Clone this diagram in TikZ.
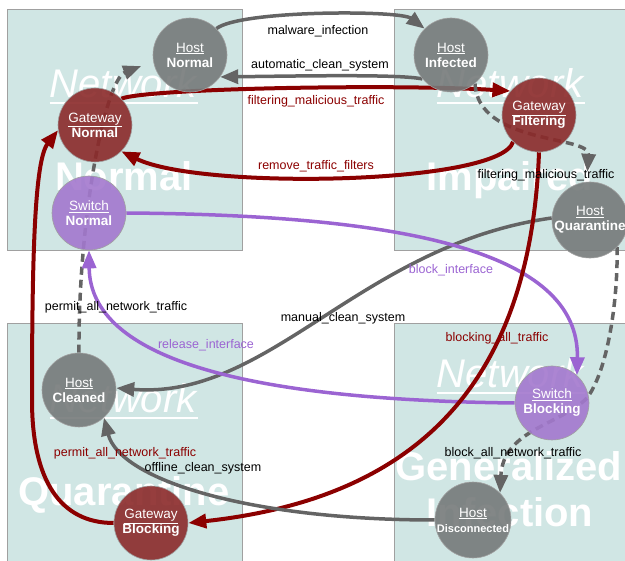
\documentclass[tikz,border=0pt]{standalone}
\usepackage{fontspec}
\setmainfont{Liberation Sans}
\usetikzlibrary{arrows.meta}
\definecolor{boxfill}{RGB}{208,230,228}
\definecolor{boxline}{RGB}{160,160,160}
\definecolor{hostfill}{RGB}{118,122,122}
\definecolor{gwfill}{RGB}{139,42,42}
\definecolor{swfill}{RGB}{163,120,206}
\definecolor{grayedge}{RGB}{100,100,100}
\definecolor{rededge}{RGB}{139,0,0}
\definecolor{purpleedge}{RGB}{155,100,210}
\pgfdeclarelayer{boxlayer}
\pgfdeclarelayer{edgelayer}
\pgfsetlayers{boxlayer,edgelayer,main}
\tikzset{
  netbox/.style={fill=boxfill, draw=boxline, line width=0.8pt},
  bgtext/.style={text=white, font=\fontsize{40}{46.5}\selectfont, anchor=base, inner sep=0pt},
  bgrule/.style={draw=white, line width=2.6pt},
  statenode/.style={circle, minimum size=74pt, inner sep=0pt, fill opacity=0.9, text opacity=1,
    draw=boxline, line width=0.6pt, text=white, align=center,
    font=\fontsize{13.5}{15}\selectfont},
  host/.style={statenode, fill=hostfill},
  gw/.style={statenode, fill=gwfill},
  sw/.style={statenode, fill=swfill},
  edgebase/.style={-{Triangle[length=18pt,width=14pt]}},
  grayline/.style={edgebase, draw=grayedge, line width=3.5pt},
  redline/.style={edgebase, draw=rededge, line width=4pt},
  purpleline/.style={edgebase, draw=purpleedge, line width=3.5pt},
  dashline/.style={grayline, dash pattern=on 8pt off 5pt},
  lbl/.style={inner sep=0pt, font=\fontsize{12.5}{14}\selectfont},
  blacklbl/.style={lbl, text=black},
  redlbl/.style={lbl, text=rededge},
  purplelbl/.style={lbl, text=purpleedge}
}
\begin{document}
\begin{tikzpicture}[x=1pt,y=-1pt]
\useasboundingbox (0,0) rectangle (625,561);
\clip (0,0) rectangle (625,561);
\begin{pgfonlayer}{boxlayer}
\path[netbox] (7,9) rectangle (242,250);
\path[netbox] (394,9) rectangle (630,250);
\path[netbox] (7,323) rectangle (242,575);
\path[netbox] (394,323) rectangle (630,575);
\node[bgtext] (bn1) at (124,98) {\textit{Network}};
\node[bgtext] (bn2) at (124,191) {\textbf{Normal}};
\node[bgtext] (bi1) at (511,98) {\textit{Network}};
\node[bgtext] (bi2) at (510,191) {\textbf{Impaired}};
\node[bgtext] (bq1) at (124,413) {\textit{Network}};
\node[bgtext] (bq2) at (124,506) {\textbf{Quarantine}};
\node[bgtext] (bg1) at (511,388) {\textit{Network}};
\node[bgtext] (bg2) at (509,481) {\textbf{Generalized}};
\node[bgtext] (bg3) at (510,527) {\textbf{Infection}};
\draw[bgrule] ([yshift=-5pt]bn1.base west) -- ([yshift=-5pt]bn1.base east);
\draw[bgrule] ([yshift=-5pt]bi1.base west) -- ([yshift=-5pt]bi1.base east);
\draw[bgrule] ([yshift=-5pt]bq1.base west) -- ([yshift=-5pt]bq1.base east);
\draw[bgrule] ([yshift=-5pt]bg1.base west) -- ([yshift=-5pt]bg1.base east);
\end{pgfonlayer}
% state nodes
\node[host] (hn) at (190,55) {\underline{Host}\\\textbf{Normal}};
\node[gw] (gn) at (95,125) {\underline{Gateway}\\\textbf{Normal}};
\node[sw] (sn) at (89,213) {\underline{Switch}\\\textbf{Normal}};
\node[host] (hi) at (451,55) {\underline{Host}\\\textbf{Infected}};
\node[gw] (gf) at (539,115) {\underline{Gateway}\\\textbf{Filtering}};
\node[host] (hq) at (590,220) {\underline{Host}\\\textbf{Quarantine}};
\node[host] (hc) at (79,390) {\underline{Host}\\\textbf{Cleaned}};
\node[gw] (gb) at (151,523) {\underline{Gateway}\\\textbf{Blocking}};
\node[sw] (sb) at (552,403) {\underline{Switch}\\\textbf{Blocking}};
\node[host] (hd) at (473,520) {\underline{Host}\\{\fontsize{11}{13}\selectfont\textbf{Disconnected}}};
% edges
\begin{pgfonlayer}{edgelayer}
\draw[grayline] (hn.45) .. controls (240,10) and (400,10) .. (hi.135);
\draw[grayline] (hi.220) .. controls (400,74) and (300,76) .. (hn.-36);
\draw[redline] (gn.45) .. controls (150,88) and (400,84) .. (gf.140);
\draw[redline] (gf.-134) .. controls (500,185) and (200,190) .. (gn.-45);
\draw[dashline, shorten >=13pt] (hc.90) .. controls (78,220) and (105,80) .. (hn.190);
\draw[dashline, shorten >=10pt] (hi.-50) .. controls (478,145) and (590,135) .. (hq.95);
\draw[grayline] (hq.177) .. controls (360,245) and (270,400) .. (hc.3);
\draw[purpleline] (sn.0) .. controls (400,215) and (580,250) .. (sb.48);
\draw[purpleline] (sb.180) .. controls (250,400) and (90,360) .. (sn.-90);
\draw[redline] (gf.-90) .. controls (530,400) and (400,500) .. (gb.0);
\draw[redline] (gb.180) .. controls (60,523) and (32,480) .. (32,400)
   .. controls (32,250) and (35,160) .. (gn.188);
\draw[grayline] (hd.180) .. controls (250,520) and (120,480) .. (hc.-48);
\draw[dashline] (hq.-45) .. controls (618,300) and (608,370) .. (587,398)
   .. controls (560,425) and (503,430) .. (hd.45);
\end{pgfonlayer}
% edge labels
\node[blacklbl] (l1) at (318,31) {malware\_infection};
\node[blacklbl] (l2) at (320,65) {automatic\_clean\_system};
\node[redlbl] (l3) at (316,101) {filtering\_malicious\_traffic};
\node[redlbl] (l4) at (316,166) {remove\_traffic\_filters};
\node[blacklbl] (l5) at (546,175) {filtering\_malicious\_traffic};
\node[purplelbl] (l6) at (451,270) {block\_interface};
\node[blacklbl] (l7) at (116,307) {permit\_all\_network\_traffic};
\node[blacklbl] (l8) at (343,318) {manual\_clean\_system};
\node[purplelbl] (l9) at (206,345) {release\_interface};
\node[redlbl] (l10) at (497,338) {blocking\_all\_traffic};
\node[redlbl] (l11) at (125,453) {permit\_all\_network\_traffic};
\node[blacklbl] (l12) at (203,468) {offline\_clean\_system};
\node[blacklbl] (l13) at (513,453) {block\_all\_network\_traffic};
\end{tikzpicture}
\end{document}
